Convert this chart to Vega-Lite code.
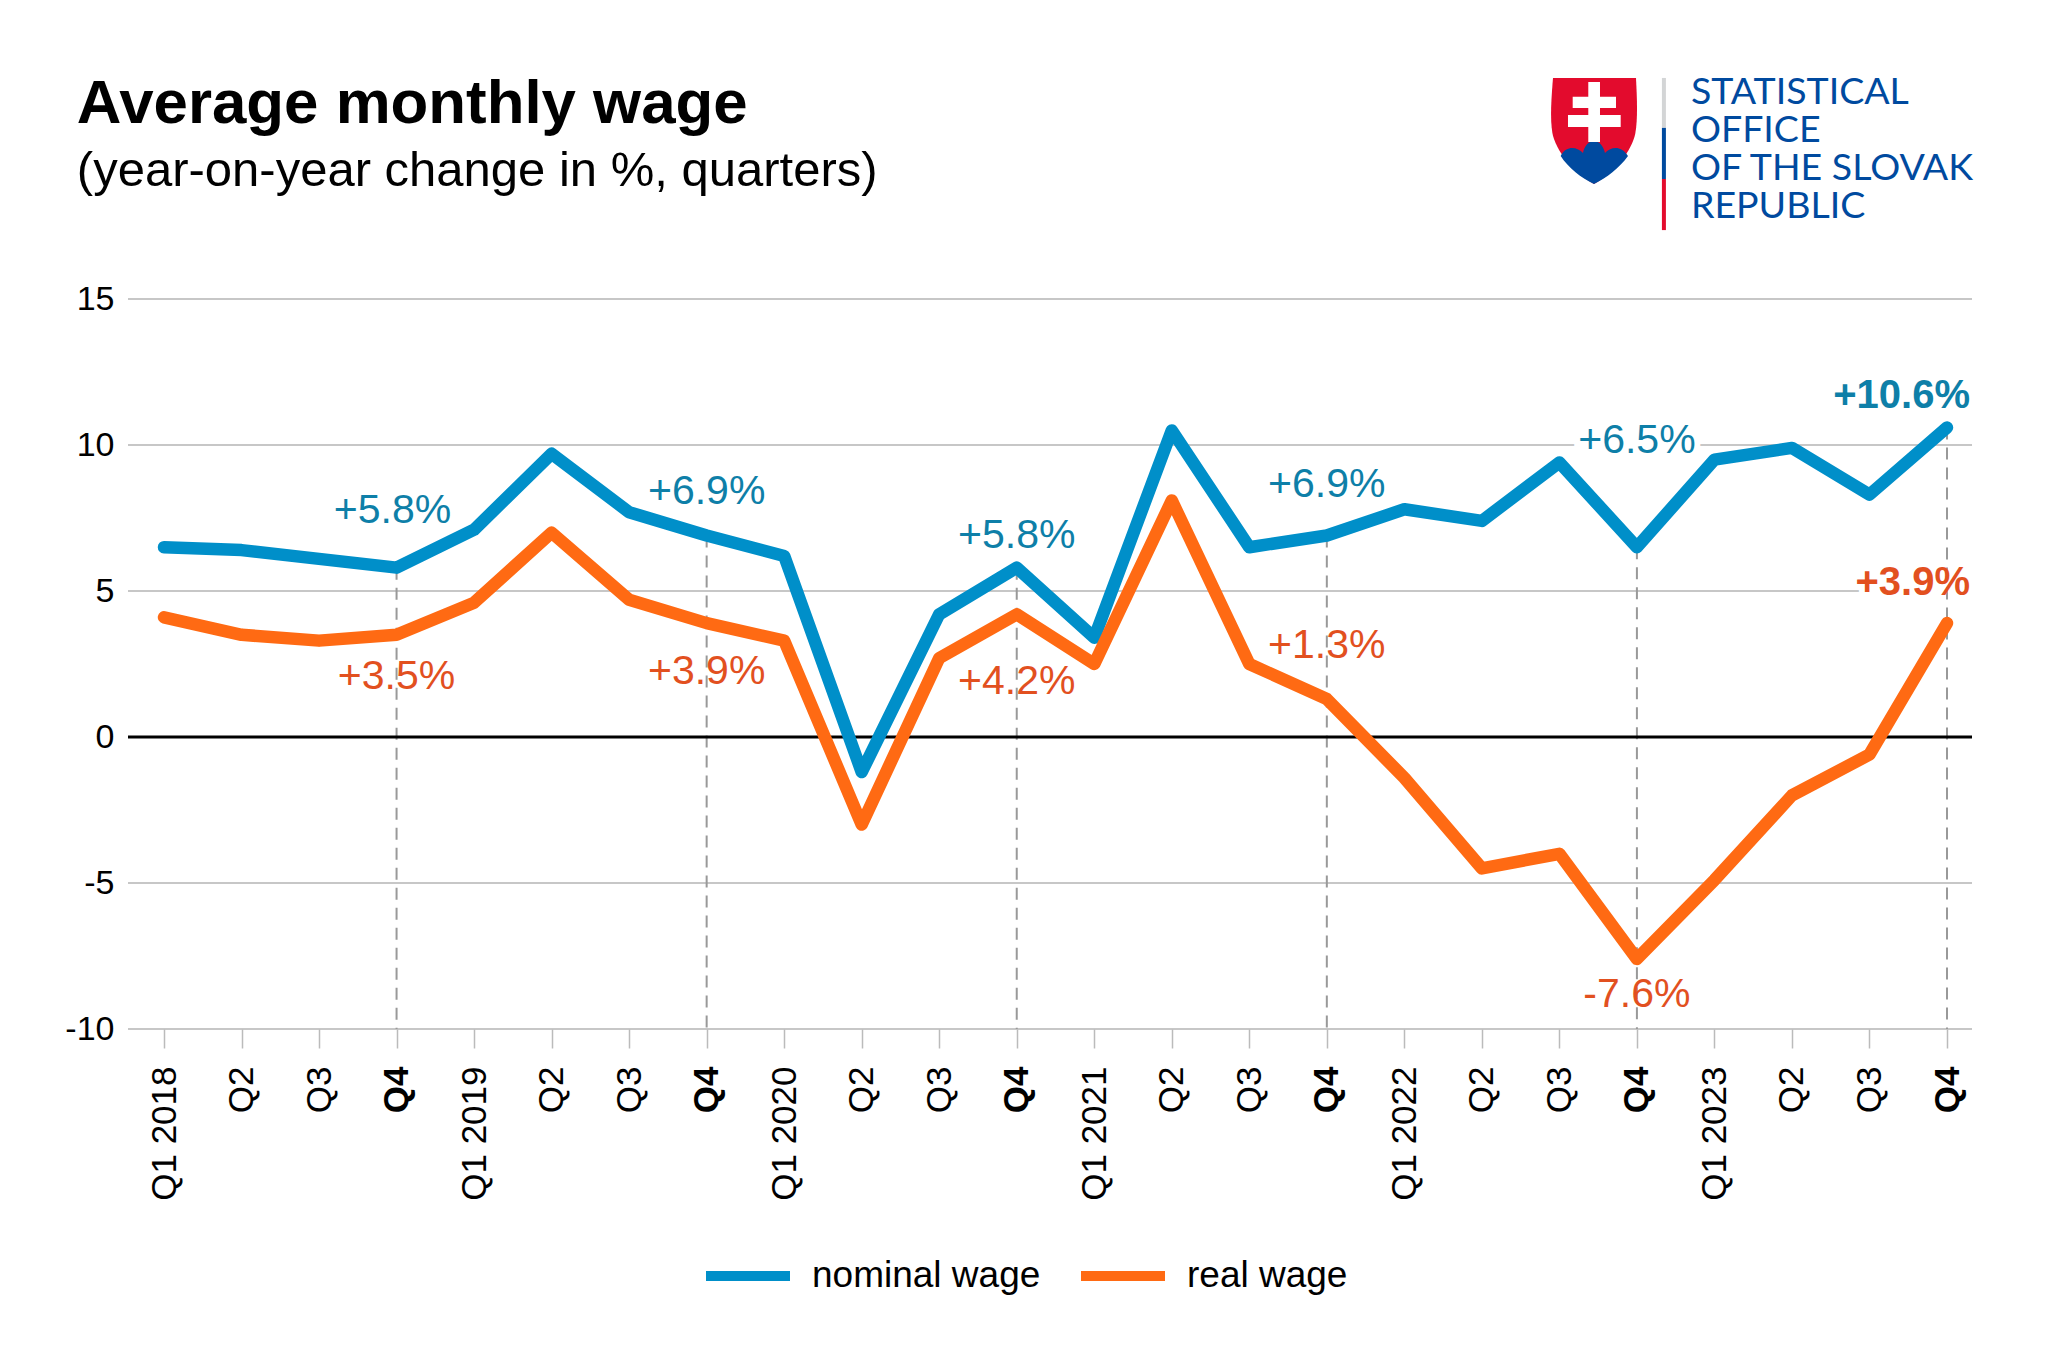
{
"$schema":"https://vega.github.io/schema/vega-lite/v6.json",
"autosize":"none","width":1844,"height":730,
"padding":{"left":128,"top":299,"right":76,"bottom":336},
"background":"white",
"title":{"text":"Average monthly wage","subtitle":"(year-on-year change in %, quarters)","anchor":"start","dx":12,"offset":-122,"font":"Liberation Sans","fontSize":61.8,"fontWeight":"bold","color":"#000000","subtitleFont":"Liberation Sans","subtitleFontSize":49,"subtitleColor":"#000000","subtitlePadding":11},
"config":{"view":{"stroke":null},"font":"Liberation Sans"},
"datasets":{"gridlines":[{"level":-10},{"level":-5},{"level":5},{"level":10},{"level":15}],"zero":[{"level":0}],"wage":[
{"quarter":"Q1 2018","series":"nominal wage","value":6.5},{"quarter":"Q2 2018","series":"nominal wage","value":6.4},{"quarter":"Q3 2018","series":"nominal wage","value":6.1},{"quarter":"Q4 2018","series":"nominal wage","value":5.8,"label":"+5.8%"},
{"quarter":"Q1 2019","series":"nominal wage","value":7.1},{"quarter":"Q2 2019","series":"nominal wage","value":9.7},{"quarter":"Q3 2019","series":"nominal wage","value":7.7},{"quarter":"Q4 2019","series":"nominal wage","value":6.9,"label":"+6.9%"},
{"quarter":"Q1 2020","series":"nominal wage","value":6.2},{"quarter":"Q2 2020","series":"nominal wage","value":-1.2},{"quarter":"Q3 2020","series":"nominal wage","value":4.2},{"quarter":"Q4 2020","series":"nominal wage","value":5.8,"label":"+5.8%"},
{"quarter":"Q1 2021","series":"nominal wage","value":3.4},{"quarter":"Q2 2021","series":"nominal wage","value":10.5},{"quarter":"Q3 2021","series":"nominal wage","value":6.5},{"quarter":"Q4 2021","series":"nominal wage","value":6.9,"label":"+6.9%"},
{"quarter":"Q1 2022","series":"nominal wage","value":7.8},{"quarter":"Q2 2022","series":"nominal wage","value":7.4},{"quarter":"Q3 2022","series":"nominal wage","value":9.4},{"quarter":"Q4 2022","series":"nominal wage","value":6.5,"label":"+6.5%"},
{"quarter":"Q1 2023","series":"nominal wage","value":9.5},{"quarter":"Q2 2023","series":"nominal wage","value":9.9},{"quarter":"Q3 2023","series":"nominal wage","value":8.3},{"quarter":"Q4 2023","series":"nominal wage","value":10.6,"label":"+10.6%"},
{"quarter":"Q1 2018","series":"real wage","value":4.1},{"quarter":"Q2 2018","series":"real wage","value":3.5},{"quarter":"Q3 2018","series":"real wage","value":3.3},{"quarter":"Q4 2018","series":"real wage","value":3.5,"label":"+3.5%"},
{"quarter":"Q1 2019","series":"real wage","value":4.6},{"quarter":"Q2 2019","series":"real wage","value":7.0},{"quarter":"Q3 2019","series":"real wage","value":4.7},{"quarter":"Q4 2019","series":"real wage","value":3.9,"label":"+3.9%"},
{"quarter":"Q1 2020","series":"real wage","value":3.3},{"quarter":"Q2 2020","series":"real wage","value":-3.0},{"quarter":"Q3 2020","series":"real wage","value":2.7},{"quarter":"Q4 2020","series":"real wage","value":4.2,"label":"+4.2%"},
{"quarter":"Q1 2021","series":"real wage","value":2.5},{"quarter":"Q2 2021","series":"real wage","value":8.1},{"quarter":"Q3 2021","series":"real wage","value":2.5},{"quarter":"Q4 2021","series":"real wage","value":1.3,"label":"+1.3%"},
{"quarter":"Q1 2022","series":"real wage","value":-1.4},{"quarter":"Q2 2022","series":"real wage","value":-4.5},{"quarter":"Q3 2022","series":"real wage","value":-4.0},{"quarter":"Q4 2022","series":"real wage","value":-7.6,"label":"-7.6%"},
{"quarter":"Q1 2023","series":"real wage","value":-4.9},{"quarter":"Q2 2023","series":"real wage","value":-2.0},{"quarter":"Q3 2023","series":"real wage","value":-0.6},{"quarter":"Q4 2023","series":"real wage","value":3.9,"label":"+3.9%"}
]},
"data":{"name":"wage"},
"layer":[
{"data":{"name":"gridlines"},"mark":{"type":"rule","color":"#b4b4b4","strokeWidth":1.5},"encoding":{"y":{"field":"level","type":"quantitative","title":null}}},
{"encoding":{
"x":{"field":"quarter","type":"ordinal","sort":null,"title":null,
 "scale":{"type":"point","padding":0,"range":[36,1819],"domain":["Q1 2018","Q2 2018","Q3 2018","Q4 2018","Q1 2019","Q2 2019","Q3 2019","Q4 2019","Q1 2020","Q2 2020","Q3 2020","Q4 2020","Q1 2021","Q2 2021","Q3 2021","Q4 2021","Q1 2022","Q2 2022","Q3 2022","Q4 2022","Q1 2023","Q2 2023","Q3 2023","Q4 2023"]},
 "axis":{"domain":false,"grid":false,"ticks":true,"tickSize":19,"tickColor":"#bbbbbb","tickWidth":1.5,"labelAngle":270,"labelAlign":"right","labelBaseline":"middle","labelPadding":18,"labelFont":"Liberation Sans","labelFontSize":35,"labelColor":"#000000","labelOverlap":false,"labelBound":false,"labelFlush":false,
  "labelExpr":"indexof(datum.label,'Q1')===0?datum.label:substring(datum.label,0,2)",
  "labelFontWeight":{"condition":{"test":"indexof(datum.value,'Q4')===0","value":"bold"},"value":"normal"}}},
"y":{"field":"value","type":"quantitative","title":null,
 "scale":{"domain":[-10,15],"nice":false,"zero":false},
 "axis":{"values":[-10,-5,0,5,10,15],"domain":false,"ticks":false,"grid":false,"labelPadding":14,"labelFont":"Liberation Sans","labelFontSize":34,"labelColor":"#000000","labelExpr":"''+datum.value"}}
},
"layer":[
{"transform":[{"filter":"datum.series==='nominal wage'&&datum.quarter==='Q4 2022'"}],"mark":{"type":"text","fontSize":41,"stroke":"white","strokeWidth":12,"fill":"white","dy":-106},"encoding":{"text":{"field":"label"}}},
{"transform":[{"filter":"datum.series==='real wage'&&datum.quarter==='Q4 2023'"}],"mark":{"type":"text","fontSize":40,"fontWeight":"bold","align":"right","stroke":"white","strokeWidth":12,"fill":"white","dx":23,"dy":-40},"encoding":{"text":{"field":"label"}}},
{"transform":[{"filter":"datum.series==='nominal wage'&&indexof(datum.quarter,'Q4')===0"}],"mark":{"type":"rule","color":"#999999","strokeWidth":2,"strokeDash":[12,8]},"encoding":{"y2":{"datum":-10}}},
{"data":{"name":"zero"},"mark":{"type":"rule","color":"#000000","strokeWidth":3},"encoding":{"x":null,"y":{"field":"level","type":"quantitative"}}},
{"mark":{"type":"line","strokeWidth":12.5,"strokeCap":"round","strokeJoin":"round"},"encoding":{"color":{"field":"series","type":"nominal","scale":{"domain":["nominal wage","real wage"],"range":["#008fc9","#ff6a13"]},
 "legend":{"title":null,"orient":"none","legendX":573,"legendY":930,"direction":"horizontal","columns":2,"symbolType":"stroke","symbolSize":7056,"symbolStrokeWidth":10,"labelFont":"Liberation Sans","labelFontSize":37,"labelColor":"#000000","labelOffset":17,"labelLimit":400,"columnPadding":20}}}},
{"transform":[{"filter":"datum.series==='nominal wage'&&datum.quarter==='Q4 2018'"}],"mark":{"type":"text","fontSize":41,"color":"#0e7fa8","dx":-4,"dy":-57},"encoding":{"text":{"field":"label"}}},
{"transform":[{"filter":"datum.series==='nominal wage'&&datum.quarter==='Q4 2019'"}],"mark":{"type":"text","fontSize":41,"color":"#0e7fa8","dy":-44},"encoding":{"text":{"field":"label"}}},
{"transform":[{"filter":"datum.series==='nominal wage'&&datum.quarter==='Q4 2020'"}],"mark":{"type":"text","fontSize":41,"color":"#0e7fa8","dy":-32},"encoding":{"text":{"field":"label"}}},
{"transform":[{"filter":"datum.series==='nominal wage'&&datum.quarter==='Q4 2021'"}],"mark":{"type":"text","fontSize":41,"color":"#0e7fa8","dy":-51},"encoding":{"text":{"field":"label"}}},
{"transform":[{"filter":"datum.series==='nominal wage'&&datum.quarter==='Q4 2022'"}],"mark":{"type":"text","fontSize":41,"color":"#0e7fa8","dy":-106},"encoding":{"text":{"field":"label"}}},
{"transform":[{"filter":"datum.series==='nominal wage'&&datum.quarter==='Q4 2023'"}],"mark":{"type":"text","fontSize":40,"fontWeight":"bold","align":"right","color":"#0e7fa8","dx":23,"dy":-31},"encoding":{"text":{"field":"label"}}},
{"transform":[{"filter":"datum.series==='real wage'&&datum.quarter==='Q4 2018'"}],"mark":{"type":"text","fontSize":41,"color":"#e2501f","dy":42},"encoding":{"text":{"field":"label"}}},
{"transform":[{"filter":"datum.series==='real wage'&&datum.quarter==='Q4 2019'"}],"mark":{"type":"text","fontSize":41,"color":"#e2501f","dy":49},"encoding":{"text":{"field":"label"}}},
{"transform":[{"filter":"datum.series==='real wage'&&datum.quarter==='Q4 2020'"}],"mark":{"type":"text","fontSize":41,"color":"#e2501f","dy":68},"encoding":{"text":{"field":"label"}}},
{"transform":[{"filter":"datum.series==='real wage'&&datum.quarter==='Q4 2021'"}],"mark":{"type":"text","fontSize":41,"color":"#e2501f","dy":-53},"encoding":{"text":{"field":"label"}}},
{"transform":[{"filter":"datum.series==='real wage'&&datum.quarter==='Q4 2022'"}],"mark":{"type":"text","fontSize":41,"color":"#e2501f","dy":36},"encoding":{"text":{"field":"label"}}},
{"transform":[{"filter":"datum.series==='real wage'&&datum.quarter==='Q4 2023'"}],"mark":{"type":"text","fontSize":40,"fontWeight":"bold","align":"right","color":"#e2501f","dx":23,"dy":-40},"encoding":{"text":{"field":"label"}}}
]},
{"data":{"name":"zero"},"mark":{"type":"point","filled":true,"size":4,"opacity":1,"strokeWidth":0,"color":"#e30b2d","shape":"M-6.4 -75 H76.6 C77.6 -55 78.5 -35 76 -20 C73 -3 55 20 34.6 31 C14 20 -4 -3 -7 -20 C-9.5 -35 -8 -55 -6.4 -75 Z"},"encoding":{"x":{"datum":"Q3 2022","title":null},"y":{"datum":20,"title":null}}},
{"data":{"name":"zero"},"mark":{"type":"point","filled":true,"size":4,"opacity":1,"strokeWidth":0,"color":"#004a9f","shape":"M1.3 3 C4 -3 9 -5 12.6 -5 C17 -5 21 -3 23.6 0 C25 -7 29 -12 34.6 -12 C40 -12 44 -7 45.6 0 C48 -3 52 -5 56.6 -5 C60 -5 65 -3 68.6 3 C60 15 47 25 34.6 31 C22 25 9 15 1.3 3 Z"},"encoding":{"x":{"datum":"Q3 2022","title":null},"y":{"datum":20,"title":null}}},
{"data":{"name":"zero"},"mark":{"type":"point","filled":true,"size":4,"opacity":1,"strokeWidth":0,"color":"#ffffff","shape":"M28.9 -71 H40.6 V-56.3 H56.6 V-45 H40.6 V-38 H61.3 V-26 H40.6 V-11 H28.9 V-26 H8.6 V-38 H28.9 V-45 H13.3 V-56.3 H28.9 Z"},"encoding":{"x":{"datum":"Q3 2022","title":null},"y":{"datum":20,"title":null}}},
{"data":{"name":"zero"},"mark":{"type":"rule","color":"#d3d5d6","strokeWidth":4,"xOffset":27},"encoding":{"x":{"datum":"Q4 2022","title":null},"y":{"datum":22.57,"title":null},"y2":{"datum":20.86}}},
{"data":{"name":"zero"},"mark":{"type":"rule","color":"#004a9f","strokeWidth":4,"xOffset":27},"encoding":{"x":{"datum":"Q4 2022","title":null},"y":{"datum":20.86,"title":null},"y2":{"datum":19.11}}},
{"data":{"name":"zero"},"mark":{"type":"rule","color":"#e30b2d","strokeWidth":4,"xOffset":27},"encoding":{"x":{"datum":"Q4 2022","title":null},"y":{"datum":19.11,"title":null},"y2":{"datum":17.36}}},
{"data":{"name":"zero"},"mark":{"type":"text","text":["STATISTICAL","OFFICE","OF THE SLOVAK","REPUBLIC"],"lineHeight":38,"font":"Lato","fontSize":37.5,"color":"#004a9f","align":"left","baseline":"alphabetic","dx":54},"encoding":{"x":{"datum":"Q4 2022","title":null},"y":{"datum":21.68,"title":null}}}
]
}
